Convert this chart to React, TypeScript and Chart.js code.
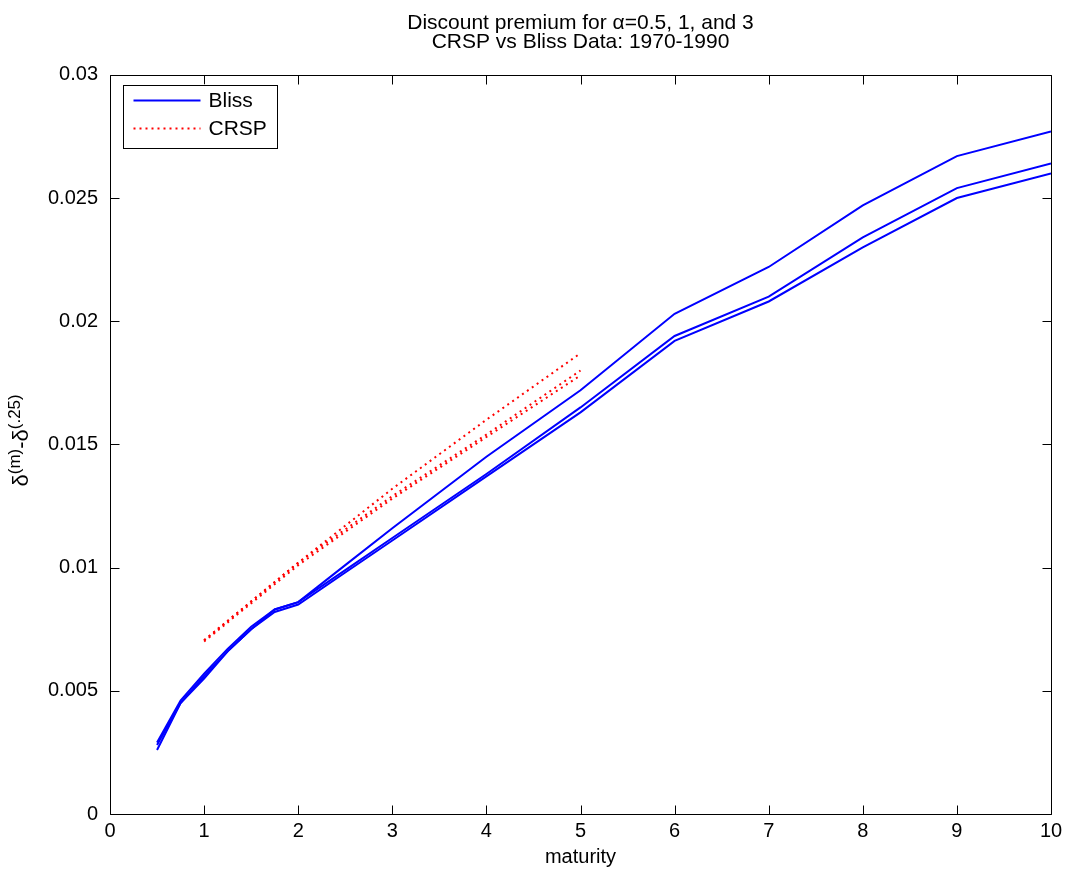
import React, { useEffect, useRef } from 'react';
import { Chart, registerables } from 'chart.js';

Chart.register(...registerables);

// ---- data ----
const blissMaturity = [0.5, 0.75, 1, 1.25, 1.5, 1.75, 2, 2.5, 3, 4, 5, 6, 7, 8, 9, 10];
const blissAlphaA = [0.0029, 0.0046, 0.0057, 0.0067, 0.0076, 0.0083, 0.0086, 0.0101, 0.0116, 0.0145, 0.0172, 0.0203, 0.0222, 0.0247, 0.0267, 0.0277];
const blissAlphaB = [0.0028, 0.0045, 0.0056, 0.0066, 0.0075, 0.0083, 0.0086, 0.0099, 0.0112, 0.0138, 0.0165, 0.0194, 0.0210, 0.0234, 0.0254, 0.0264];
const blissAlphaC = [0.0026, 0.0045, 0.0055, 0.0066, 0.0075, 0.0082, 0.0085, 0.0098, 0.0111, 0.0137, 0.0163, 0.0192, 0.0208, 0.0230, 0.0250, 0.0260];

const crspMaturity = [1, 2, 3, 4, 5];
const crspAlphaA = [0.00705, 0.0102, 0.0132, 0.0160, 0.0187];
const crspAlphaB = [0.00705, 0.0102, 0.0129, 0.0154, 0.0180];
const crspAlphaC = [0.0070, 0.0101, 0.0128, 0.0153, 0.0178];

const xTickValues = [0, 1, 2, 3, 4, 5, 6, 7, 8, 9, 10];
const yTickValues = [0, 0.005, 0.01, 0.015, 0.02, 0.025, 0.03];

const titleLines = ['Discount premium for \u03b1=0.5, 1, and 3', 'CRSP vs Bliss Data: 1970-1990'];
const xAxisLabel = 'maturity';
const legendLabels = ['Bliss', 'CRSP'];

const FONT = '"Liberation Sans", Arial, Helvetica, sans-serif';
const BLUE = '#0000ff';
const RED = '#ff0000';

const toPoints = (xs: number[], ys: number[]) => xs.map((x, i) => ({ x, y: ys[i] }));

const framePlugin = {
  id: 'matlabFrame',
  afterDraw(chart: any) {
    const { ctx, chartArea: a, scales } = chart;
    const xs = scales.x;
    const ys = scales.y;
    ctx.save();
    ctx.strokeStyle = '#000';
    ctx.lineWidth = 1;
    const L = Math.round(a.left) + 0.5;
    const R = Math.round(a.right) + 0.5;
    const T = Math.round(a.top) + 0.5;
    const B = Math.round(a.bottom) + 0.5;
    ctx.beginPath();
    ctx.rect(L, T, R - L, B - T);
    const tl = 9;
    xTickValues.forEach((v) => {
      const px = Math.round(xs.getPixelForValue(v)) + 0.5;
      ctx.moveTo(px, B);
      ctx.lineTo(px, B - tl);
      ctx.moveTo(px, T);
      ctx.lineTo(px, T + tl);
    });
    yTickValues.forEach((v) => {
      const py = Math.round(ys.getPixelForValue(v)) + 0.5;
      ctx.moveTo(L, py);
      ctx.lineTo(L + tl, py);
      ctx.moveTo(R, py);
      ctx.lineTo(R - tl, py);
    });
    ctx.stroke();

    // legend box (inside plot, top-left)
    const lx = L + 12;
    const ly = T + 9;
    const lw = 154;
    const lh = 63;
    ctx.fillStyle = '#fff';
    ctx.fillRect(lx, ly, lw, lh);
    ctx.strokeStyle = '#000';
    ctx.strokeRect(Math.round(lx) + 0.5, Math.round(ly) + 0.5, lw, lh);
    const rows = [
      { label: legendLabels[0], color: BLUE, dash: [] as number[], y: ly + 16 },
      { label: legendLabels[1], color: RED, dash: [2, 4], y: ly + 44 },
    ];
    rows.forEach((r) => {
      ctx.beginPath();
      ctx.strokeStyle = r.color;
      ctx.lineWidth = 2;
      ctx.setLineDash(r.dash);
      ctx.moveTo(lx + 11, r.y);
      ctx.lineTo(lx + 78, r.y);
      ctx.stroke();
      ctx.setLineDash([]);
      ctx.fillStyle = '#000';
      ctx.font = `21px ${FONT}`;
      ctx.textAlign = 'left';
      ctx.textBaseline = 'middle';
      ctx.fillText(r.label, lx + 86, r.y + 1);
    });

    // x axis label
    ctx.fillStyle = '#000';
    ctx.font = `20px ${FONT}`;
    ctx.textAlign = 'center';
    ctx.textBaseline = 'middle';
    ctx.fillText(xAxisLabel, (a.left + a.right) / 2, a.bottom + 43);

    // y axis label: delta^(m) - delta^(.25), rotated
    const parts = [
      { t: '\u03b4', size: 22, dy: 0 },
      { t: '(m)', size: 17, dy: -8 },
      { t: '-', size: 22, dy: 0 },
      { t: '\u03b4', size: 22, dy: 0 },
      { t: '(.25)', size: 17, dy: -8 },
    ];
    let total = 0;
    const widths = parts.map((p) => {
      ctx.font = `${p.size}px ${FONT}`;
      const w = ctx.measureText(p.t).width;
      total += w;
      return w;
    });
    ctx.translate(28, (a.top + a.bottom) / 2 - 4);
    ctx.rotate(-Math.PI / 2);
    ctx.textAlign = 'left';
    ctx.textBaseline = 'alphabetic';
    let cx = -total / 2;
    parts.forEach((p, i) => {
      ctx.font = `${p.size}px ${FONT}`;
      ctx.fillText(p.t, cx, p.dy);
      cx += widths[i];
    });
    ctx.restore();
  },
};

export default function App() {
  const canvasRef = useRef<HTMLCanvasElement | null>(null);

  useEffect(() => {
    if (!canvasRef.current) return;
    const blissStyle = { borderColor: BLUE, borderWidth: 2, pointRadius: 0, fill: false, tension: 0 };
    const crspStyle = { borderColor: RED, borderWidth: 2, borderDash: [2, 4], pointRadius: 0, fill: false, tension: 0 };
    const chart = new Chart(canvasRef.current, {
      type: 'line',
      data: {
        datasets: [
          { label: 'Bliss \u03b1=0.5', data: toPoints(blissMaturity, blissAlphaA), ...blissStyle },
          { label: 'Bliss \u03b1=1', data: toPoints(blissMaturity, blissAlphaB), ...blissStyle },
          { label: 'Bliss \u03b1=3', data: toPoints(blissMaturity, blissAlphaC), ...blissStyle },
          { label: 'CRSP \u03b1=0.5', data: toPoints(crspMaturity, crspAlphaA), ...crspStyle },
          { label: 'CRSP \u03b1=1', data: toPoints(crspMaturity, crspAlphaB), ...crspStyle },
          { label: 'CRSP \u03b1=3', data: toPoints(crspMaturity, crspAlphaC), ...crspStyle },
        ],
      },
      options: {
        responsive: false,
        animation: false,
        devicePixelRatio: 1,
        layout: { padding: { left: 0, right: 14, top: 0, bottom: 0 } },
        plugins: {
          legend: { display: false },
          tooltip: { enabled: false },
          title: {
            display: true,
            fullSize: false,
            text: titleLines,
            color: '#000',
            font: { family: FONT, size: 21, weight: 'normal', lineHeight: 0.9 },
            padding: { top: 14, bottom: 23 },
          },
        },
        scales: {
          x: {
            type: 'linear',
            min: 0,
            max: 10,
            grid: { display: false, drawTicks: false },
            border: { display: false },
            afterBuildTicks: (s: any) => { s.ticks = xTickValues.map((v) => ({ value: v })); },
            afterFit: (s: any) => { s.height = 57; s.paddingLeft = 0; s.paddingRight = 0; },
            ticks: {
              color: '#000',
              padding: 5,
              maxRotation: 0,
              autoSkip: false,
              font: { family: FONT, size: 20 },
              callback: (v: any) => String(v),
            },
          },
          y: {
            type: 'linear',
            min: 0,
            max: 0.03,
            grid: { display: false, drawTicks: false },
            border: { display: false },
            afterBuildTicks: (s: any) => { s.ticks = yTickValues.map((v) => ({ value: v })); },
            afterFit: (s: any) => { s.width = 110; },
            ticks: {
              color: '#000',
              padding: 12,
              autoSkip: false,
              font: { family: FONT, size: 20 },
              callback: (v: any) => String(Number(Number(v).toFixed(3))),
            },
          },
        },
      },
      plugins: [framePlugin],
    } as any);
    return () => chart.destroy();
  }, []);

  return (
    <div style={{ position: 'fixed', left: 0, top: 0, width: 1065, height: 871, background: '#fff' }}>
      <canvas ref={canvasRef} width={1065} height={871} style={{ display: 'block' }} />
    </div>
  );
}
